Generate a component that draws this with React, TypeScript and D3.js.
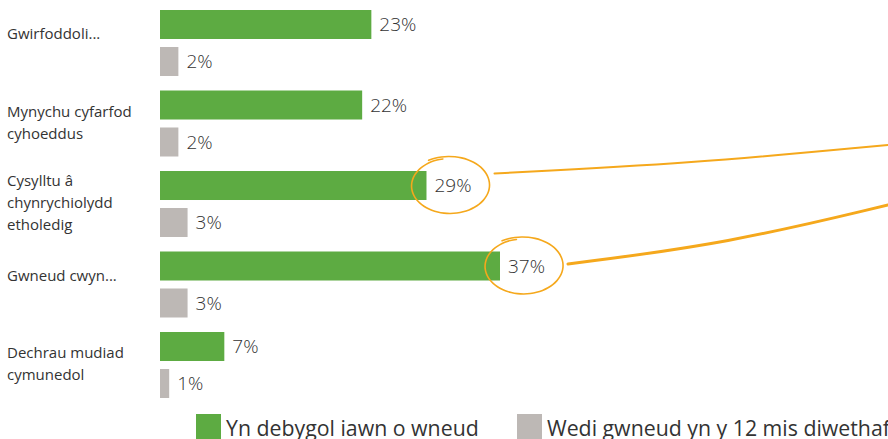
import React from 'react';
import * as d3 from 'd3';

// categories, each label pre-split into its lines
const categories = ['Gwirfoddoli', 'Mynychu', 'Cysylltu', 'Gwneud', 'Dechrau'];
const categoryLines = [
  ['Gwirfoddoli...'],
  ['Mynychu cyfarfod', 'cyhoeddus'],
  ['Cysylltu â', 'chynrychiolydd', 'etholedig'],
  ['Gwneud cwyn...'],
  ['Dechrau mudiad', 'cymunedol'],
];
const likelyValues = [23, 22, 29, 37, 7];
const doneValues = [2, 2, 3, 3, 1];
const seriesNames = ['Yn debygol iawn o wneud', 'Wedi gwneud yn y 12 mis diwethaf'];
const highlighted = ['Cysylltu', 'Gwneud'];

const GREEN = '#5dab42';
const GREY = '#bdb8b5';
const ORANGE = '#f5a81c';
const TEXT = '#333333';
const FONT = "'Open Sans', sans-serif";

const width = 888;
const height = 439;

// wobbly hand-drawn ring around a value label
function ringPath(cx: number, cy: number, rx: number, ry: number) {
  const pts: [number, number][] = [];
  const n = 40;
  for (let i = 0; i <= n; i++) {
    const t = -2.1 + (i / n) * (Math.PI * 2 + 0.35);
    const grow = 1 + 0.12 * (1 - i / n);
    pts.push([cx + Math.cos(t) * rx * grow, cy + Math.sin(t) * ry * (1 + 0.08 * (1 - i / n))]);
  }
  return d3.line().curve(d3.curveCatmullRom)(pts) || '';
}

const App: React.FC = () => {
  const x = d3.scaleLinear().domain([0, 37]).range([160, 500]);
  const y = d3.scaleBand<string>().domain(categories).range([10, 412.5]);
  const inner = d3.scaleBand<string>().domain(['likely', 'done']).range([0, 66]).paddingInner(0.216);
  const bh = inner.bandwidth();

  const rows = categories.map((c, i) => ({
    key: c,
    lines: categoryLines[i],
    likely: likelyValues[i],
    done: doneValues[i],
  }));

  return (
    <svg width={width} height={height} style={{ position: 'absolute', left: 0, top: 0, background: '#fff' }}
      fontFamily={FONT}>
      {rows.map(r => {
        const y0 = y(r.key)!;
        const gy = y0 + inner('likely')!;
        const ry = y0 + inner('done')!;
        const mid = y0 + 33;
        const lh = 22;
        const nudge = r.lines.length === 1 ? -9 : -1;
        const top = mid + nudge - ((r.lines.length - 1) * lh) / 2;
        return (
          <g key={r.key}>
            <text x={7} fill={TEXT} fontSize={15}>
              {r.lines.map((l, j) => (
                <tspan key={j} x={7} y={top + j * lh} dy="0.35em">{l}</tspan>
              ))}
            </text>
            <rect x={x(0)} y={gy} width={x(r.likely) - x(0)} height={bh} fill={GREEN} />
            <text x={x(r.likely) + 8} y={gy + bh / 2} dy="0.36em" fontSize={19} fontWeight={300} fill={TEXT}>{r.likely}%</text>
            <rect x={x(0)} y={ry} width={x(r.done) - x(0)} height={bh} fill={GREY} />
            <text x={x(r.done) + 8} y={ry + bh / 2} dy="0.36em" fontSize={19} fontWeight={300} fill={TEXT}>{r.done}%</text>
          </g>
        );
      })}

      {/* annotations */}
      {highlighted.map((k, i) => {
        const r = rows.find(d => d.key === k)!;
        const cy = y(k)! + inner('likely')! + bh / 2;
        const cx = x(r.likely) + 23;
        const startX = cx + 45;
        const startY = cy - (i === 0 ? 12 : 2);
        const endY = i === 0 ? 145 : 205;
        const link = d3.line().curve(d3.curveBasis)([
          [startX, startY],
          [startX + (width - startX) * 0.5, startY - (startY - endY) * 0.35],
          [width, endY],
        ]) || '';
        return (
          <g key={k} fill="none" stroke={ORANGE} strokeLinecap="round">
            <path d={ringPath(cx, cy, 37, 27)} strokeWidth={1.6} />
            <path d={link} strokeWidth={i === 0 ? 2 : 3} />
          </g>
        );
      })}

      {/* legend */}
      <g>
        <rect x={196} y={414} width={25} height={25} fill={GREEN} />
        <text x={226} y={428} dy="0.36em" fontSize={21.3} fill={TEXT}>{seriesNames[0]}</text>
        <rect x={517} y={414} width={25} height={25} fill={GREY} />
        <text x={547} y={428} dy="0.36em" fontSize={21.3} fill={TEXT}>{seriesNames[1]}</text>
      </g>
    </svg>
  );
};

export default App;
